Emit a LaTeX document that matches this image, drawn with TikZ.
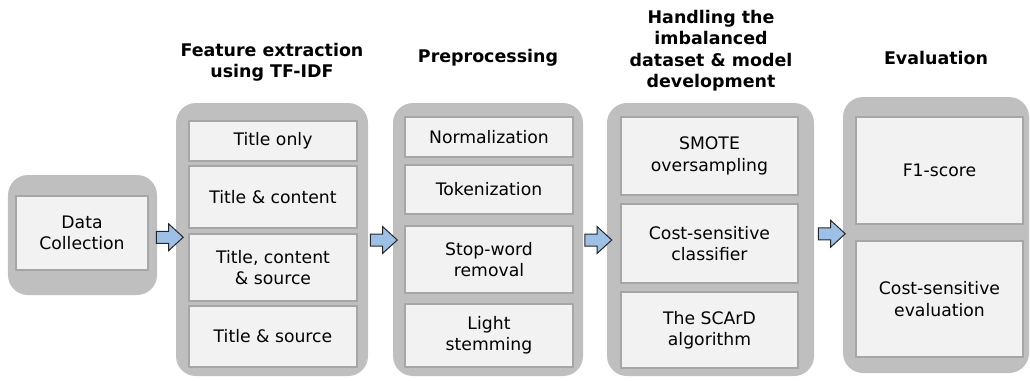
\documentclass[tikz,border=0pt]{standalone}
\usepackage{fontspec}
\setmainfont{DejaVu Sans}
\usetikzlibrary{shapes.arrows,calc}
\definecolor{grp}{RGB}{191,191,191}
\definecolor{cell}{RGB}{242,242,242}
\definecolor{cellline}{RGB}{166,166,166}
\definecolor{arrblue}{RGB}{157,192,230}
\tikzset{x=1bp,y=-1bp}
\tikzset{group/.style={fill=grp,rounded corners=20bp,inner sep=0pt}}
\tikzset{cellbox/.style={draw=cellline,line width=1.2bp,fill=cell,inner sep=0pt,align=center,font=\fontsize{17.3}{21.5}\selectfont}}
\tikzset{head/.style={align=center,font=\fontsize{17.5}{21.5}\selectfont\bfseries}}
\tikzset{blockarr/.style={single arrow,draw=black!85,line width=1bp,fill=arrblue,inner xsep=0pt,inner ysep=5.5bp,minimum height=27bp,single arrow head extend=7.5bp,single arrow tip angle=85}}

\begin{document}
\begin{tikzpicture}
\useasboundingbox (0,0) rectangle (1030,380);
% stage frames
\node[group,minimum width=149bp,minimum height=120bp,name=dc] at (82.5,235) {};
\node[group,minimum width=192bp,minimum height=273bp,name=fe] at (272,239.5) {};
\node[group,minimum width=190bp,minimum height=273bp,name=pp] at (488,239.5) {};
\node[group,minimum width=207bp,minimum height=273bp,name=im] at (710.5,239.5) {};
\node[group,minimum width=186bp,minimum height=276bp,name=ev] at (936,235) {};
% titles
\node[head,name=tfe] at (272,62) {Feature extraction\\using TF-IDF};
\node[head,name=tpp] at (488,58) {Preprocessing};
\node[head,name=tim] at (711,50.5) {Handling the\\imbalanced\\dataset \& model\\development};
\node[head,name=tev] at (936,58) {Evaluation};
% data collection
\node[cellbox,minimum width=132bp,minimum height=74bp,name=dc1] at (82,233) {Data\\Collection};
% feature extraction
\node[cellbox,minimum width=168bp,minimum height=40bp,name=fe1] at (273,141) {Title only};
\node[cellbox,minimum width=168bp,minimum height=62bp,name=fe2] at (273,197) {Title \& content};
\node[cellbox,minimum width=168bp,minimum height=67bp,name=fe3] at (273,267.5) {Title, content\\\& source};
\node[cellbox,minimum width=168bp,minimum height=61bp,name=fe4] at (273,336.5) {Title \& source};
% preprocessing
\node[cellbox,minimum width=168bp,minimum height=40bp,name=pp1] at (489,137) {Normalization};
\node[cellbox,minimum width=168bp,minimum height=49bp,name=pp2] at (489,189.5) {Tokenization};
\node[cellbox,minimum width=168bp,minimum height=67bp,name=pp3] at (489,259.5) {Stop-word\\removal};
\node[cellbox,minimum width=168bp,minimum height=63bp,name=pp4] at (489,335.5) {Light\\stemming};
% imbalance & models
\node[cellbox,minimum width=177bp,minimum height=78bp,name=im1] at (709.5,156) {SMOTE\\oversampling};
\node[cellbox,minimum width=177bp,minimum height=79bp,name=im2] at (709.5,243.5) {Cost-sensitive\\classifier};
\node[cellbox,minimum width=177bp,minimum height=76bp,name=im3] at (709.5,330) {The SCArD\\algorithm};
% evaluation
\node[cellbox,minimum width=167bp,minimum height=107bp,name=ev1] at (939.5,170.5) {F1-score};
\node[cellbox,minimum width=167bp,minimum height=116bp,name=ev2] at (939.5,299) {Cost-sensitive\\evaluation};
% arrows between stages
\node[blockarr,name=a1] at ($(dc.east)!0.5!(fe.west)+(0,0)$) {};
\node[blockarr,name=a2] at ($(fe.east)!0.5!(pp.west)+(0,0.5)$) {};
\node[blockarr,name=a3] at ($(pp.east)!0.5!(im.west)+(0,0.5)$) {};
\node[blockarr,name=a4] at ($(im.east)!0.5!(ev.west)+(0,-3.5)$) {};
\end{tikzpicture}
\end{document}
